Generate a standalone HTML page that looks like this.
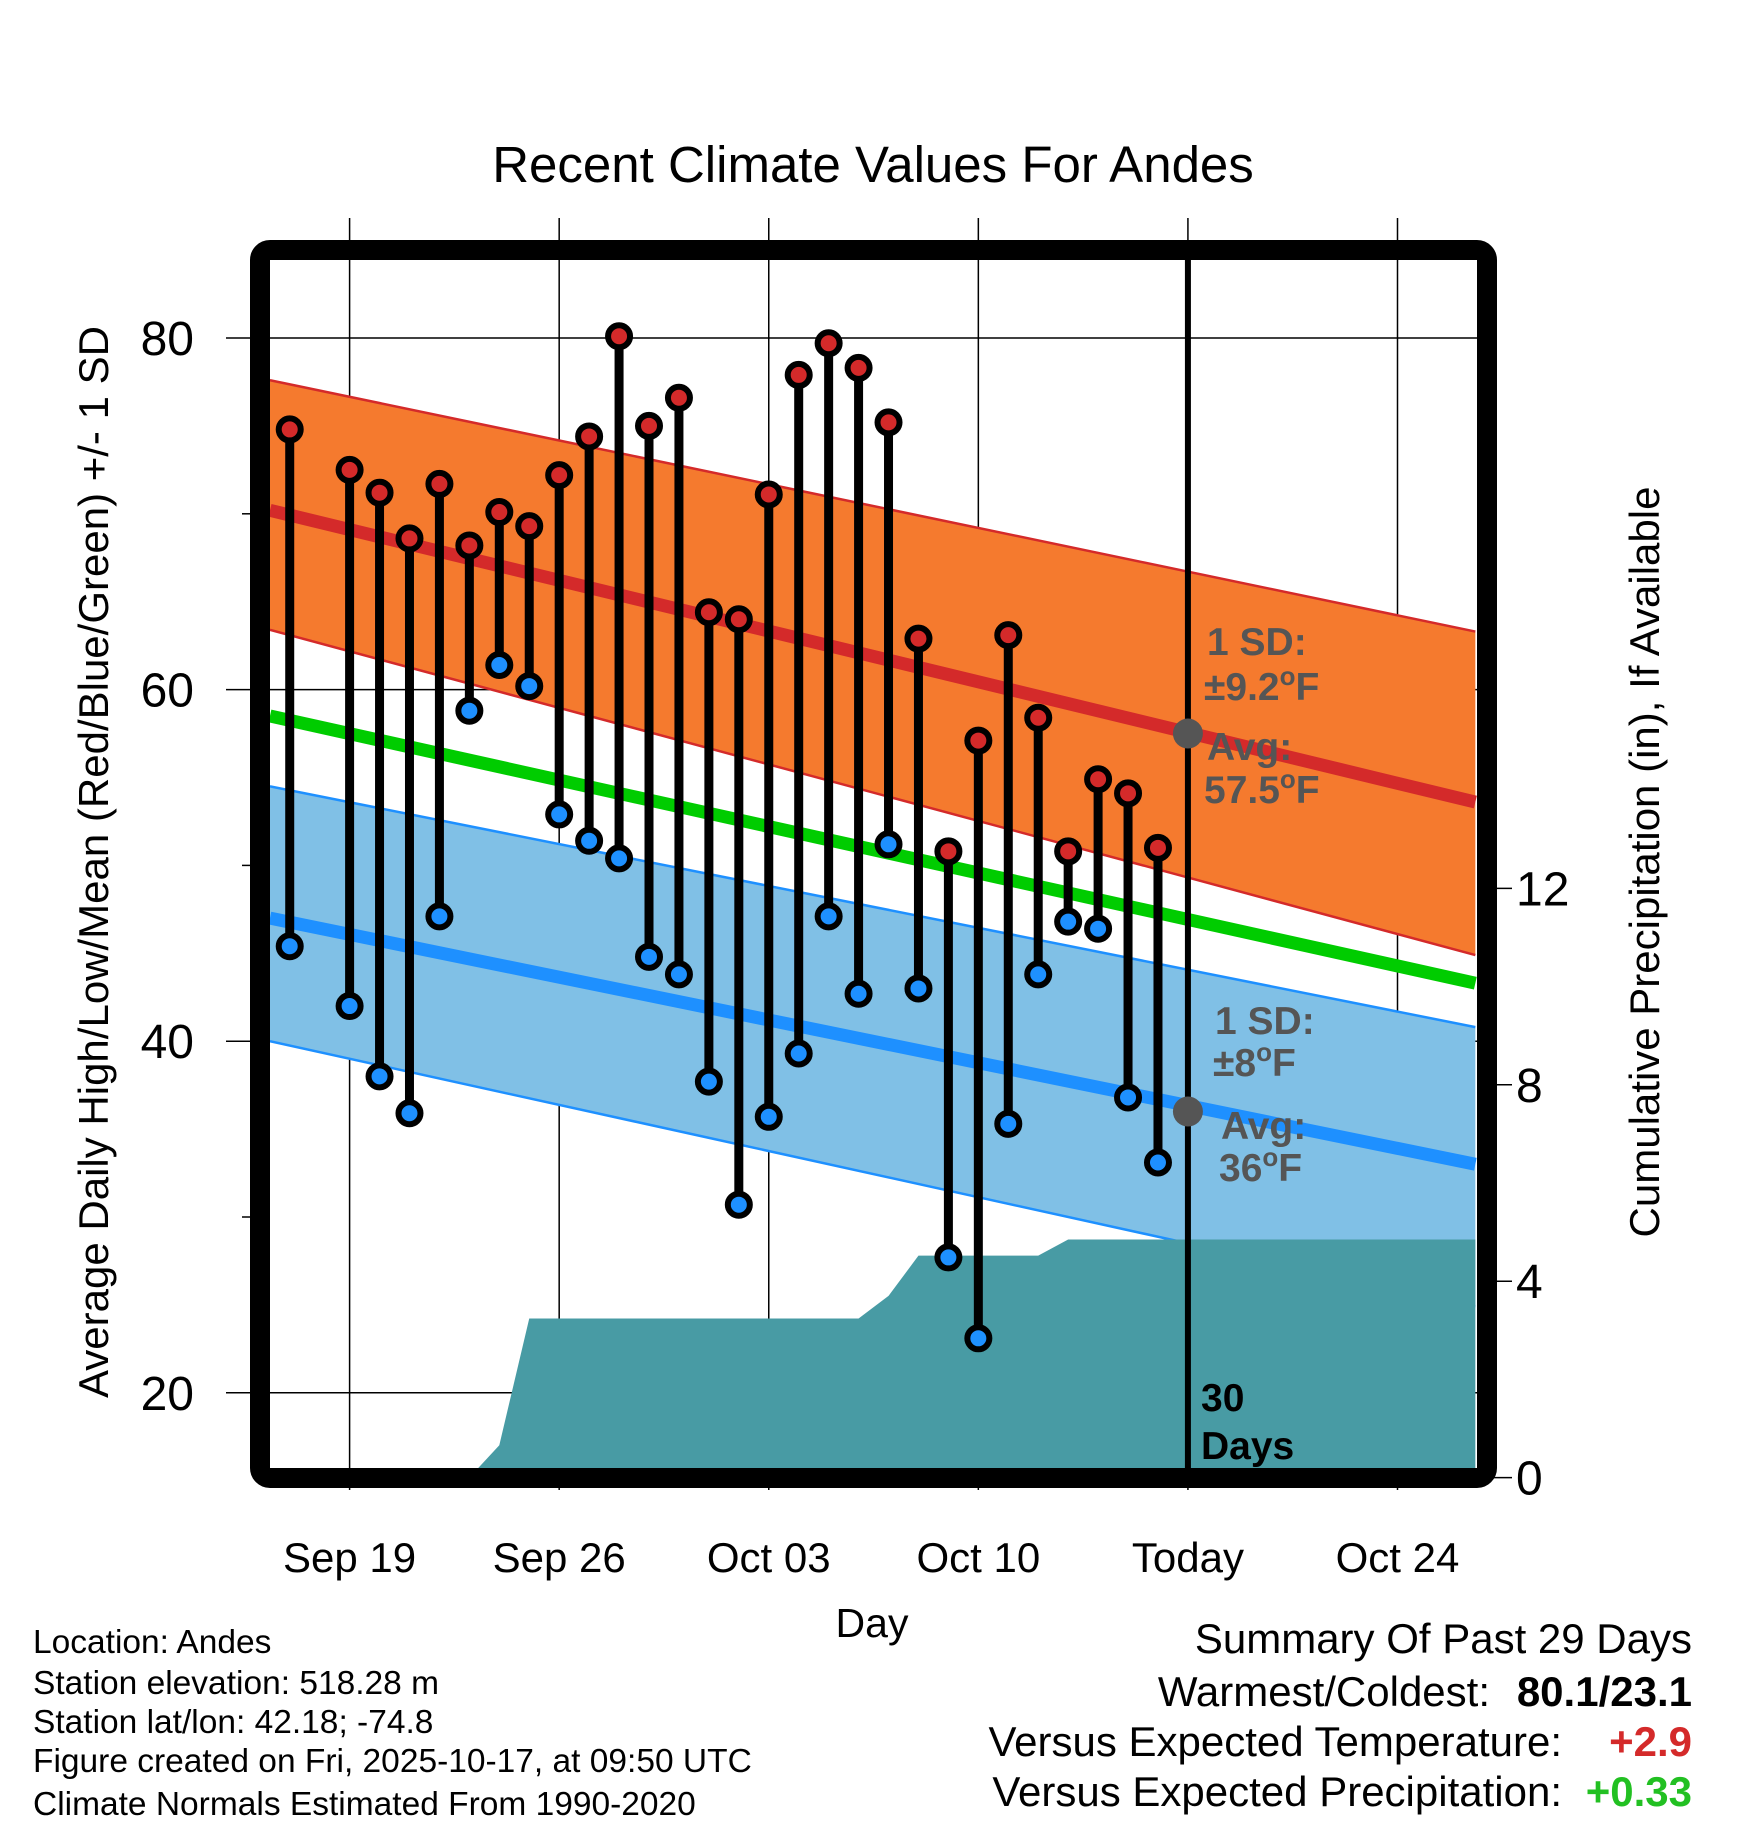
<!DOCTYPE html>
<html><head><meta charset="utf-8"><style>
html,body{margin:0;padding:0;background:#fff;}
svg{display:block;font-family:"Liberation Sans",sans-serif;}
</style></head><body>
<svg id="chart" width="1748" height="1828" viewBox="0 0 1748 1828" xmlns="http://www.w3.org/2000/svg">
<defs><clipPath id="clipInner"><rect x="270" y="260" width="1208" height="1208"/></clipPath></defs>
<text x="873" y="182" font-size="51" text-anchor="middle">Recent Climate Values For Andes</text>
<g id="grid"></g>
<g id="plot" clip-path="url(#clipInner)"></g>
<g id="overlay"></g>
<rect x="260" y="250" width="1227" height="1228" rx="10" fill="none" stroke="#000" stroke-width="20"/>
<g id="axes"></g>
<text transform="translate(108,862) rotate(-90)" font-size="42" text-anchor="middle">Average Daily High/Low/Mean (Red/Blue/Green) +/- 1 SD</text>
<text transform="translate(1659,862) rotate(-90)" font-size="42" text-anchor="middle">Cumulative Precipitation (in), If Available</text>
<text x="872" y="1637" font-size="41" text-anchor="middle">Day</text>
<g font-size="33.5">
<text x="33" y="1653">Location: Andes</text>
<text x="33" y="1694">Station elevation: 518.28 m</text>
<text x="33" y="1733">Station lat/lon: 42.18; -74.8</text>
<text x="33" y="1772">Figure created on Fri, 2025-10-17, at 09:50 UTC</text>
<text x="33" y="1815">Climate Normals Estimated From 1990-2020</text>
</g>
<g font-size="42" text-anchor="end">
<text x="1692" y="1653">Summary Of Past 29 Days</text>
<text x="1490" y="1706">Warmest/Coldest:</text>
<text x="1692" y="1706" font-weight="bold">80.1/23.1</text>
<text x="1562" y="1756">Versus Expected Temperature:</text>
<text x="1692" y="1756" font-weight="bold" fill="#d42a2a">+2.9</text>
<text x="1562" y="1806">Versus Expected Precipitation:</text>
<text x="1692" y="1806" font-weight="bold" fill="#22c022">+0.33</text>
</g>
</svg>
<script>
// Day index: 0 = Sep 19
const obsDays = [-2,0,1,2,3,4,5,6,7,8,9,10,11,12,13,14,15,16,17,18,19,20,21,22,23,24,25,26,27];
const highs = [74.8,72.5,71.2,68.6,71.7,68.2,70.1,69.3,72.2,74.4,80.1,75.0,76.6,64.4,64.0,71.1,77.9,79.7,78.3,75.2,62.9,50.8,57.1,63.1,58.4,50.8,54.9,54.1,51.0];
const lows = [45.4,42.0,38.0,35.9,47.1,58.8,61.4,60.2,52.9,51.4,50.4,44.8,43.8,37.7,30.7,35.7,39.3,47.1,42.7,51.2,43.0,27.7,23.1,35.3,43.8,46.8,46.4,36.8,33.1];
const precipDays = [-2.66,4,5,6,17,18,19,23,24,27,37.6];
const precipVals = [0,0,0.66,3.24,3.24,3.7,4.52,4.52,4.85,4.85,4.85];
const normDays = [-2.66,37.6];
const normHigh = [70.2,53.6];
const normHighUpper = [77.6,63.3];
const normHighLower = [63.4,44.9];
const normMean = [58.5,43.3];
const normLow = [47.0,33.0];
const normLowUpper = [54.5,40.8];
const normLowLower = [40.0,24.9];
const todayNormals = [57.5,36];
const xTickDays = [0,7,14,21,28,35];
const xTickLabels = ["Sep 19","Sep 26","Oct 03","Oct 10","Today","Oct 24"];
const yTicks = [20,40,60,80];
const yMinor = [30,50,70];
const y2Ticks = [0,4,8,12];
const todayDay = 28;

const NS="http://www.w3.org/2000/svg";
const X = d => 349.6 + d*29.94;
const Y = v => 338 + (80-v)*17.58;
const Y2 = p => 1477.6 - p*49.1;
function mk(parent,tag,attrs){const e=document.createElementNS(NS,tag);for(const k in attrs)e.setAttribute(k,attrs[k]);parent.appendChild(e);return e;}
const grid=document.getElementById('grid'),plot=document.getElementById('plot'),ov=document.getElementById('overlay'),axes=document.getElementById('axes');

xTickDays.forEach((d,i)=>{
  const l=mk(grid,'line',{x1:X(d),x2:X(d),y1:218,y2:1490,stroke:'#000','stroke-width':1.5});
  
  
  const t=mk(axes,'text',{x:X(d),y:1572,'font-size':42,'text-anchor':'middle'});
  t.textContent=xTickLabels[i];
  
  
});
yTicks.forEach(v=>{
  const l=mk(grid,'line',{x1:226,x2:1478,y1:Y(v),y2:Y(v),stroke:'#000','stroke-width':1.5});
  
  
  const t=mk(axes,'text',{x:194,y:Y(v)+17,'font-size':48,'text-anchor':'end'});
  t.textContent=v;
  
  
});
yMinor.forEach(v=>{
  const l=mk(axes,'line',{x1:242,x2:252,y1:Y(v),y2:Y(v),stroke:'#000','stroke-width':1.5});
  
  
});
y2Ticks.forEach(p=>{
  const l=mk(axes,'line',{x1:1490,x2:1512,y1:Y2(p),y2:Y2(p),stroke:'#000','stroke-width':1.5});
  
  
  const t=mk(axes,'text',{x:1516,y:Y2(p)+17,'font-size':48});
  t.textContent=p;
  
  
});

function band(up,lo,fill,edge,name){
  const a=[X(normDays[0]),Y(up[0])],b=[X(normDays[1]),Y(up[1])],c=[X(normDays[1]),Y(lo[1])],d=[X(normDays[0]),Y(lo[0])];
  const p=mk(plot,'polygon',{points:[a,b,c,d].map(q=>q.join(',')).join(' '),fill:fill});
  
  
  [[a,b],[d,c]].forEach(s=>{const l=mk(plot,'line',{x1:s[0][0],y1:s[0][1],x2:s[1][0],y2:s[1][1],stroke:edge,'stroke-width':2.5});
    
    });
}
function nline(vals,color,name){
  const l=mk(plot,'line',{x1:X(normDays[0]),y1:Y(vals[0]),x2:X(normDays[1]),y2:Y(vals[1]),stroke:color,'stroke-width':13});
  
  
}
band(normLowUpper,normLowLower,'#80c0e6','#1e90ff','low');
band(normHighUpper,normHighLower,'#f57a2e','#d42a2a','high');
nline(normLow,'#1e90ff','normal-low-line');
nline(normMean,'#00cc00','normal-mean-line');
nline(normHigh,'#d42a2a','normal-high-line');

let pts=precipDays.map((d,i)=>X(d)+','+Y2(precipVals[i]));
pts.push(X(precipDays[precipDays.length-1])+',1480');pts.push(X(precipDays[0])+',1480');
const pa=mk(plot,'polygon',{points:pts.join(' '),fill:'#489ba4'});



const tl=mk(plot,'line',{x1:X(todayDay),x2:X(todayDay),y1:255,y2:1475,stroke:'#000','stroke-width':6});



obsDays.forEach((d,i)=>{
  const s=mk(plot,'line',{x1:X(d),x2:X(d),y1:Y(highs[i]),y2:Y(lows[i]),stroke:'#000','stroke-width':9});
  
  
  const h=mk(plot,'circle',{cx:X(d),cy:Y(highs[i]),r:11,fill:'#d42a2a',stroke:'#000','stroke-width':6});
  
  
  const lo=mk(plot,'circle',{cx:X(d),cy:Y(lows[i]),r:11,fill:'#1e90ff',stroke:'#000','stroke-width':6});
  
  
});

todayNormals.forEach((v,i)=>{
  const c=mk(ov,'circle',{cx:X(todayDay),cy:Y(v),r:15,fill:'#555'});
  
  
});
function lab(x,y,html,color,name){
  const t=mk(ov,'text',{x:x,y:y,'font-size':39,'font-weight':'bold',fill:color});
  t.innerHTML=html;
  
  
}
lab(1207,655,'1 SD:','#555','high-sd-label');
lab(1204,700,'±9.2<tspan dy="-15" font-size="26">o</tspan><tspan dy="15">F</tspan>','#555','high-sd-value');
lab(1207,760,'Avg:','#555','high-avg-label');
lab(1204,803,'57.5<tspan dy="-15" font-size="26">o</tspan><tspan dy="15">F</tspan>','#555','high-avg-value');
lab(1215,1034,'1 SD:','#555','low-sd-label');
lab(1213,1076,'±8<tspan dy="-15" font-size="26">o</tspan><tspan dy="15">F</tspan>','#555','low-sd-value');
lab(1221,1139,'Avg:','#555','low-avg-label');
lab(1219,1181,'36<tspan dy="-15" font-size="26">o</tspan><tspan dy="15">F</tspan>','#555','low-avg-value');
lab(1201,1411,'30','#000','days-label-num');
lab(1201,1459,'Days','#000','days-label-text');
</script>
</body></html>
